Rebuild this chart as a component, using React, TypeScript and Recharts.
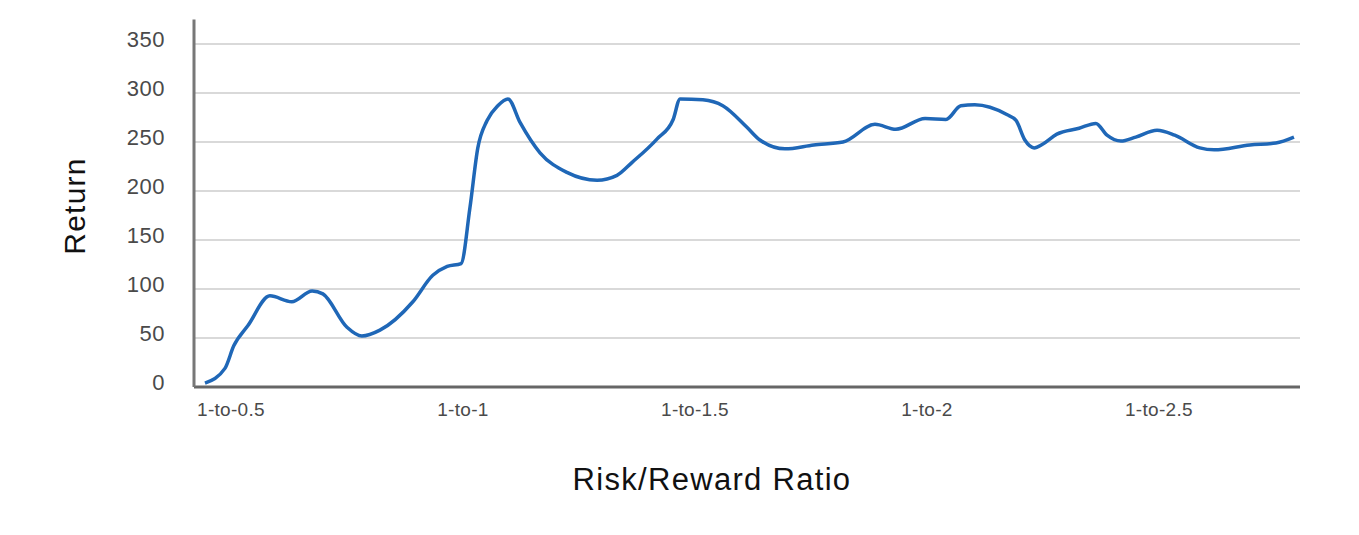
import React from "react";
import { LineChart, Line, XAxis, YAxis, CartesianGrid, Label } from "recharts";

const ratios = [
  0.444, 0.487, 0.506, 0.537, 0.584, 0.631, 0.675, 0.698, 0.75, 0.782, 0.821,
  0.892, 0.935, 0.966, 0.996, 1.015, 1.032, 1.052, 1.075, 1.097, 1.123, 1.166,
  1.224, 1.289, 1.332, 1.364, 1.418, 1.453, 1.468, 1.517, 1.56, 1.612, 1.64,
  1.694, 1.756, 1.819, 1.888, 1.933, 1.996, 2.041, 2.073, 2.103, 2.172, 2.192,
  2.211, 2.231, 2.25, 2.28, 2.328, 2.364, 2.388, 2.418, 2.45, 2.496, 2.534,
  2.588, 2.619, 2.696, 2.752, 2.791,
];
const returns = [
  4, 19, 42, 63, 93, 87, 98, 95, 61, 52, 58, 87, 114, 123, 126, 183, 244, 272,
  287, 294, 270, 239, 219, 211, 216, 229, 253, 273, 294, 293, 287, 265, 252,
  243, 247, 250, 268, 263, 274, 273, 287, 288, 278, 272, 252, 244, 248, 258,
  264, 269, 257, 251, 255, 262, 257, 244, 242, 247, 249, 255,
];
const xTicks = [0.5, 1, 1.5, 2, 2.5];
const xTickLabels = ["1-to-0.5", "1-to-1", "1-to-1.5", "1-to-2", "1-to-2.5"];
const yTicks = [0, 50, 100, 150, 200, 250, 300, 350];
const yMax = 375;
const xTitle = "Risk/Reward Ratio";
const yTitle = "Return";

const data = ratios.map((r, i) => ({ ratio: r, value: returns[i] }));

const FONT = "'Liberation Sans', Arial, Helvetica, sans-serif";

const XTick = (props: any) => {
  const { x, y, payload } = props;
  const idx = xTicks.indexOf(payload.value);
  return (
    <text
      x={x}
      y={y + 29}
      textAnchor="middle"
      fontFamily={FONT}
      fontSize={19}
      letterSpacing={0.3}
      fill="#4a4a4a"
    >
      {idx >= 0 ? xTickLabels[idx] : String(payload.value)}
    </text>
  );
};

const YTick = (props: any) => {
  const { x, y, payload } = props;
  return (
    <text
      x={x}
      y={y + 3}
      textAnchor="end"
      fontFamily={FONT}
      fontSize={22}
      letterSpacing={0.5}
      fill="#4a4a4a"
    >
      {payload.value}
    </text>
  );
};

const gridGen = (p: any) => {
  const off = p && p.offset ? p.offset : { top: 11.5, height: 367.5 };
  return yTicks
    .filter((t) => t > 0)
    .map((t) => off.top + off.height * (1 - t / yMax));
};

export default function App() {
  return (
    <LineChart
      width={1343}
      height={519}
      data={data}
      margin={{ top: 11.5, right: 51, left: 0, bottom: 0 }}
    >
      <CartesianGrid
        vertical={false}
        stroke="#d9d9d9"
        strokeWidth={2}
        horizontalCoordinatesGenerator={gridGen}
      />
      <XAxis
        dataKey="ratio"
        type="number"
        domain={[0.4203, 2.804]}
        ticks={xTicks}
        allowDataOverflow
        height={140}
        tickLine={false}
        tickSize={0}
        tickMargin={0}
        tick={<XTick />}
        stroke="#666"
        strokeWidth={3}
      >
        <Label
          content={() => (
            <text
              x={704}
              y={482}
              textAnchor="middle"
              fontFamily={FONT}
              fontSize={31}
              letterSpacing={1.3}
              fill="#111"
            >
              {xTitle}
            </text>
          )}
        />
      </XAxis>
      <YAxis
        type="number"
        domain={[0, yMax]}
        ticks={yTicks}
        width={186}
        tickLine={false}
        tickSize={0}
        tickMargin={29}
        tick={<YTick />}
        stroke="#777"
        strokeWidth={3}
      >
        <Label
          content={() => (
            <text
              x={77}
              y={198}
              textAnchor="middle"
              transform="rotate(-90 77 198)"
              fontFamily={FONT}
              fontSize={30}
              letterSpacing={1.2}
              fill="#111"
            >
              {yTitle}
            </text>
          )}
        />
      </YAxis>
      <Line
        type="monotone"
        dataKey="value"
        stroke="#1f67b7"
        strokeWidth={3.5}
        dot={false}
        isAnimationActive={false}
      />
    </LineChart>
  );
}
